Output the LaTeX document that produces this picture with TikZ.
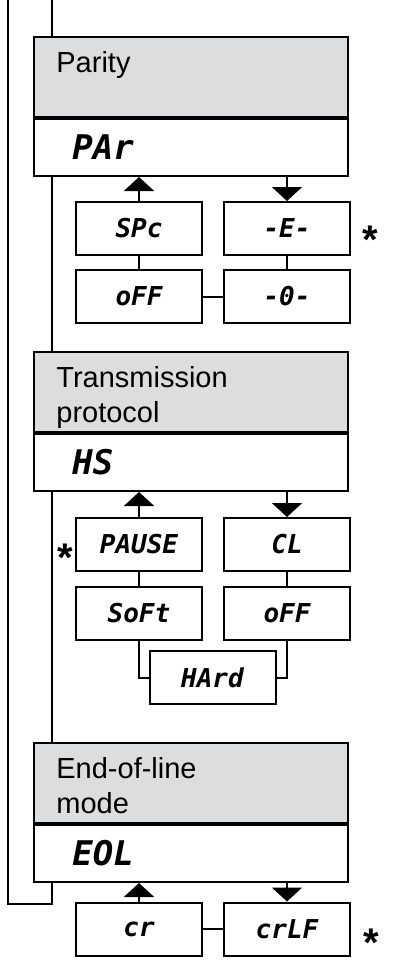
\documentclass[tikz,border=0pt]{standalone}
\usepackage{fontspec}
\setmainfont{Liberation Sans}
\newfontfamily\segfont{DejaVu Sans Mono}
\usetikzlibrary{arrows.meta,positioning}
\definecolor{titlegrey}{RGB}{220,221,222}
\tikzset{
  titlebox/.style={draw, fill=titlegrey, line width=1pt, minimum width=157pt, minimum height=40pt, inner sep=0pt},
  valbox/.style={draw, fill=white, line width=1pt, minimum width=157pt, minimum height=28.5pt, inner sep=0pt},
  titletext/.style={anchor=north west, inner sep=0pt, align=left, font=\fontsize{14.5}{17.5}\selectfont},
  codetext/.style={anchor=west, inner sep=0pt, font=\segfont\bfseries\itshape\fontsize{17}{20}\selectfont},
  optbox/.style={draw, fill=white, line width=1pt, minimum width=63pt, minimum height=26.5pt, inner sep=0pt, font=\segfont\bfseries\itshape\fontsize{13}{15}\selectfont},
  flow/.style={line width=1pt, -{Triangle[width=15pt,length=7pt]}},
  link/.style={line width=1pt},
  star/.style={inner sep=0pt, font=\bfseries\fontsize{20}{20}\selectfont}
}
\begin{document}
\begin{tikzpicture}[x=0.5pt,y=-0.5pt]
    \useasboundingbox (0,0) rectangle (394,970);
    \coordinate (innertop) at (52,0);
    \coordinate (outertop) at (8,0);
    % parity
    \node[titlebox] (partitle) at (191,77) {};
    \node[valbox, below=0pt of partitle] (parval) {};
    \node[titletext] (parname) at ([shift={(23,15)}]partitle.north west) {Parity};
    \node[codetext] (parcode) at ([shift={(39,0)}]parval.west) {PAr};
    \node[optbox] (spc) at (139,228.5) {SPc};
    \node[optbox, right=10pt of spc] (even) {-E-};
    \node[optbox, below=6.5pt of spc] (off) {oFF};
    \node[optbox, right=10pt of off] (odd) {-0-};
    \draw[flow] (spc.north) -- (spc.north |- parval.south);
    \draw[flow] (even.north |- parval.south) -- (even.north);
    \draw[link] (spc) -- (off);
    \draw[link] (even) -- (odd);
    \draw[link] (off) -- (odd);
    \node[star] (stara) at (370,240) {*};
    % transmission protocol
    \node[titlebox] (hstitle) at (191,392) {};
    \node[valbox, below=0pt of hstitle] (hsval) {};
    \node[titletext] (hsname) at ([shift={(23,15)}]hstitle.north west) {Transmission\\protocol};
    \node[codetext] (hscode) at ([shift={(39,0)}]hsval.west) {HS};
    \node[optbox] (pause) at (139,544.5) {PAUSE};
    \node[optbox, right=10pt of pause] (cl) {CL};
    \node[optbox, below=7pt of pause] (soft) {SoFt};
    \node[optbox, right=10pt of soft] (hsoff) {oFF};
    \node[optbox] (hard) at (212.5,677.5) {HArd};
    \draw[flow] (pause.north) -- (pause.north |- hsval.south);
    \draw[flow] (cl.north |- hsval.south) -- (cl.north);
    \draw[link] (pause) -- (soft);
    \draw[link] (cl) -- (hsoff);
    \draw[link] (soft.south) |- (hard.west);
    \draw[link] (hsoff.south) |- (hard.east);
    \node[star] (starb) at (65,558) {*};
    % end-of-line mode
    \node[titlebox] (eoltitle) at (191,783) {};
    \node[valbox, below=0pt of eoltitle] (eolval) {};
    \node[titletext] (eolname) at ([shift={(23,15)}]eoltitle.north west) {End-of-line\\mode};
    \node[codetext] (eolcode) at ([shift={(39,0)}]eolval.west) {EOL};
    \node[optbox] (cr) at (139,929) {cr};
    \node[optbox, right=10pt of cr] (crlf) {crLF};
    \draw[flow] (cr.north) -- (cr.north |- eolval.south);
    \draw[flow] (crlf.north |- eolval.south) -- (crlf.north);
    \draw[link] (cr) -- (crlf);
    \node[star] (starc) at (371,943) {*};
    % frame lines
    \draw[link] (innertop) -- (innertop |- partitle.north);
    \draw[link] (innertop |- parval.south) -- (innertop |- hstitle.north);
    \draw[link] (innertop |- hsval.south) -- (innertop |- eoltitle.north);
    \draw[link] (innertop |- eolval.south) -- ++(0,21) -| (outertop);
\end{tikzpicture}
\end{document}
